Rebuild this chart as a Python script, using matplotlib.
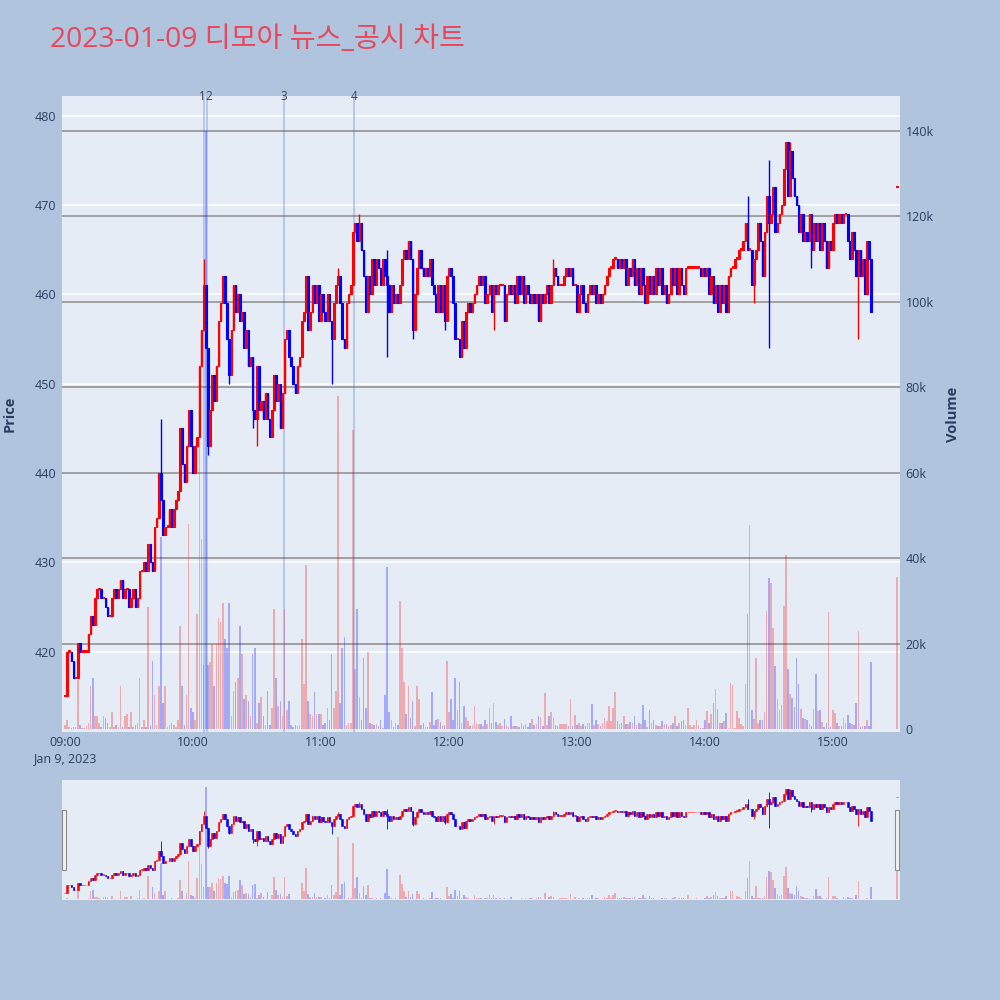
import numpy as np
import matplotlib
matplotlib.use("Agg")
import matplotlib.pyplot as plt
from matplotlib.patches import Rectangle
from matplotlib.ticker import FuncFormatter
from matplotlib.transforms import blended_transform_factory

plt.rcParams['font.family'] = ['Open Sans', 'Noto Sans CJK KR', 'DejaVu Sans']

title = "2023-01-09 디모아 뉴스_공시 차트"

# minute-by-minute closes from 09:00 to 15:18, then the 15:30 closing auction
closes = [
    415, 420, 420, 419, 417, 417, 421, 420, 420, 420,
    420, 422, 424, 423, 426, 427, 427, 426, 426, 425,
    424, 424, 426, 427, 426, 427, 428, 426, 427, 427,
    425, 426, 427, 425, 426, 429, 429, 430, 429, 432,
    430, 429, 434, 435, 440, 437, 433, 434, 434, 436,
    434, 436, 437, 438, 445, 441, 439, 443, 447, 443,
    440, 443, 444, 452, 456, 461, 454, 443, 447, 451,
    448, 452, 457, 459, 462, 459, 455, 451, 456, 461,
    458, 460, 457, 458, 454, 456, 452, 453, 447, 446,
    452, 447, 448, 446, 449, 446, 444, 447, 451, 448,
    450, 445, 449, 455, 456, 453, 452, 450, 449, 452,
    453, 457, 458, 462, 456, 458, 461, 459, 461, 457,
    460, 458, 457, 460, 457, 455, 459, 461, 462, 459,
    455, 454, 459, 460, 461, 467, 468, 466, 468, 465,
    462, 458, 462, 460, 464, 461, 464, 463, 461, 464,
    462, 461, 458, 461, 459, 460, 459, 461, 464, 465,
    464, 466, 464, 456, 460, 463, 465, 463, 462, 463,
    462, 464, 461, 460, 458, 461, 458, 461, 457, 462,
    463, 462, 459, 455, 455, 453, 457, 454, 458, 459,
    458, 459, 460, 461, 462, 461, 462, 459, 460, 461,
    458, 461, 460, 461, 461, 461, 457, 460, 461, 460,
    461, 459, 462, 460, 462, 459, 461, 460, 459, 460,
    459, 460, 457, 460, 459, 460, 461, 459, 461, 463,
    462, 461, 461, 461, 462, 463, 462, 463, 461, 461,
    458, 460, 461, 459, 458, 460, 461, 460, 461, 459,
    460, 459, 460, 461, 462, 463, 463, 464, 464, 463,
    464, 463, 464, 461, 463, 462, 464, 461, 463, 460,
    463, 461, 459, 462, 460, 462, 460, 463, 461, 463,
    460, 461, 459, 460, 463, 461, 463, 460, 463, 461,
    460, 463, 463, 463, 463, 463, 463, 463, 462, 463,
    462, 463, 460, 462, 459, 461, 458, 461, 459, 461,
    458, 462, 463, 463, 464, 464, 465, 465, 466, 468,
    465, 465, 461, 464, 465, 468, 466, 462, 467, 471,
    468, 469, 472, 467, 468, 469, 470, 474, 477, 471,
    476, 473, 471, 470, 467, 469, 466, 467, 466, 469,
    465, 468, 466, 468, 465, 468, 466, 463, 466, 465,
    468, 469, 468, 469, 468, 469, 469, 466, 464, 467,
    465, 462, 465, 462, 464, 460, 466, 464, 458,
    472,
]

# volume in thousands of shares, same minutes
volumes_k = [
    1.0, 2.0, 0.5, 0.3, 0.5, 0.5, 11.5, 1.0, 0.3, 0.3,
    0.8, 1.5, 10.0, 12.0, 3.0, 3.0, 1.5, 0.5, 3.0, 2.5,
    1.5, 0.5, 4.0, 0.5, 1.0, 0.5, 10.0, 0.5, 3.0, 3.5,
    0.5, 4.0, 0.5, 1.0, 1.5, 12.0, 0.5, 2.0, 0.5, 28.5,
    1.0, 16.0, 8.0, 1.0, 10.0, 45.0, 6.0, 10.0, 0.5, 1.0,
    1.5, 1.0, 0.5, 2.0, 24.0, 10.0, 1.0, 8.0, 48.0, 5.0,
    4.0, 2.0, 27.0, 70.0, 44.5, 15.0, 140.0, 15.0, 15.6, 20.0,
    10.0, 20.0, 26.0, 25.0, 29.5, 21.0, 19.0, 29.5, 3.0, 9.0,
    11.0, 12.0, 24.0, 17.5, 7.0, 8.0, 6.6, 3.0, 17.5, 19.0,
    1.5, 6.0, 7.5, 3.0, 1.0, 9.0, 1.0, 5.0, 28.0, 12.0,
    5.5, 6.6, 3.0, 28.0, 4.5, 6.6, 1.0, 0.5, 1.0, 0.8,
    1.0, 21.0, 10.5, 38.4, 6.6, 3.5, 3.0, 8.6, 3.5, 3.5,
    3.5, 1.0, 1.5, 5.0, 2.0, 17.5, 5.0, 9.0, 78.0, 6.0,
    19.0, 21.5, 1.0, 1.5, 1.5, 70.0, 14.0, 28.0, 7.5, 2.0,
    16.6, 5.0, 18.0, 1.5, 1.2, 1.0, 1.2, 0.7, 2.0, 0.3,
    8.0, 38.0, 4.0, 2.0, 0.5, 1.5, 1.0, 30.0, 19.0, 11.0,
    3.5, 10.0, 2.5, 6.5, 0.6, 10.0, 7.0, 1.0, 1.4, 0.5,
    0.5, 1.7, 8.7, 1.0, 2.0, 2.3, 1.6, 0.8, 1.0, 16.0,
    4.0, 7.0, 2.0, 12.0, 4.5, 11.0, 1.5, 5.5, 2.7, 1.8,
    0.8, 1.0, 5.5, 1.3, 1.2, 1.2, 0.8, 2.0, 1.2, 5.0,
    1.3, 6.0, 1.6, 1.0, 1.3, 0.8, 2.3, 1.0, 0.5, 3.0,
    0.6, 0.6, 0.6, 0.4, 1.5, 0.6, 1.2, 0.5, 1.3, 2.3,
    0.9, 1.2, 3.0, 2.7, 0.6, 8.5, 1.0, 3.0, 4.0, 2.6,
    1.0, 0.6, 1.2, 1.2, 1.2, 1.2, 0.8, 7.0, 0.8, 3.2,
    1.0, 1.5, 0.8, 1.2, 0.7, 1.5, 1.5, 5.9, 0.9, 2.0,
    1.2, 0.6, 1.5, 2.6, 1.8, 5.3, 1.8, 5.0, 8.6, 1.8,
    1.2, 1.3, 3.0, 1.2, 1.2, 1.6, 1.4, 3.1, 1.0, 1.5,
    1.2, 5.7, 2.1, 0.5, 4.5, 1.5, 2.0, 1.0, 0.6, 0.8,
    1.8, 1.2, 1.2, 0.6, 1.0, 1.4, 3.0, 0.6, 1.4, 1.8,
    2.0, 1.0, 4.9, 1.0, 0.5, 1.0, 2.0, 1.0, 0.2, 0.2,
    2.0, 4.3, 1.5, 3.4, 6.0, 9.4, 4.7, 1.3, 1.3, 1.8,
    3.7, 0.3, 10.7, 10.2, 0.2, 4.3, 2.5, 1.2, 0.8, 10.5,
    27.0, 47.7, 4.5, 2.3, 16.6, 1.3, 2.1, 2.1, 4.0, 27.7,
    35.4, 34.3, 23.6, 14.8, 7.0, 4.5, 5.6, 28.9, 40.8, 14.0,
    8.2, 7.3, 5.2, 16.6, 10.5, 4.8, 2.6, 2.3, 2.1, 1.2,
    0.8, 4.8, 12.9, 4.3, 4.5, 1.6, 0.5, 1.5, 27.3, 0.4,
    4.5, 3.7, 1.5, 0.8, 0.8, 2.6, 1.3, 3.3, 1.3, 1.2,
    1.0, 6.0, 23.0, 0.5, 0.8, 0.8, 2.0, 0.8, 15.7,
    35.6,
]

# minutes after 09:00 for each candle (market gap 15:19-15:29, auction at 15:30)
minutes = list(range(379)) + [390]

# wicks that go past the candle body
wick_high = {45: 446, 58: 447, 65: 464, 113: 462, 128: 463, 138: 469,
             151: 465, 229: 464, 320: 471, 330: 475, 338: 477, 340: 477}
wick_low = {54: 439, 67: 442, 77: 450, 88: 445, 90: 443, 96: 444, 101: 445,
            125: 450, 151: 453, 163: 455, 178: 456, 185: 453, 201: 456,
            222: 457, 323: 459, 330: 454, 350: 463, 372: 455}

first_open = 415
news_minutes = [65.0, 66.8, 102.5, 135.5]
news_labels = ['1', '2', '3', '4']

tick_minutes = [0, 60, 120, 180, 240, 300, 360]
tick_labels = ['09:00\nJan 9, 2023', '10:00', '11:00', '12:00', '13:00', '14:00', '15:00']

UP = '#FF0000'
DOWN = '#0000FF'
TXT = '#2a3f5f'

x = np.array(minutes, dtype=float)
c = np.array(closes, dtype=float)
o = np.concatenate([[first_open], c[:-1]])
o[-1] = c[-1]  # closing auction prints a single price
h = np.maximum(o, c)
l = np.minimum(o, c)
for k, v in wick_high.items():
    h[k] = max(h[k], v)
for k, v in wick_low.items():
    l[k] = min(l[k], v)
vol = np.array(volumes_k) * 1000
up = c >= o
cols = np.where(up, UP, DOWN)
vcols = [(1, 0, 0, 0.28) if u else (0, 0, 1, 0.28) for u in up]

XLIM = (-1.4, 391.5)
PLIM = (411.0, 482.2)
VLIM = (-700, 148200)


def draw_candles(ax, width, lw_body, lw_wick):
    ax.vlines(x, l, h, colors=cols, linewidth=lw_wick, zorder=3)
    body = np.maximum(np.abs(c - o), 0.15)
    ax.bar(x, body, width, bottom=np.minimum(o, c), color=cols,
           edgecolor=cols, linewidth=lw_body, zorder=4)


def clean(ax):
    for s in ax.spines.values():
        s.set_visible(False)
    ax.tick_params(length=0)


fig = plt.figure(figsize=(10, 10), dpi=100, facecolor='#B0C4DE')
pos = [0.062, 0.268, 0.838, 0.636]

ax_v = fig.add_axes(pos)
ax_v.set_facecolor('#E5ECF6')
ax_p = fig.add_axes(pos, sharex=ax_v)
ax_p.patch.set_visible(False)
ax_p.set_zorder(ax_v.get_zorder() + 1)
clean(ax_v)
clean(ax_p)

ax_v.set_xlim(*XLIM)
ax_v.set_ylim(*VLIM)
ax_p.set_ylim(*PLIM)

# price grid (white) drawn behind volume bars
ptrans = blended_transform_factory(ax_v.transAxes, ax_p.transData)
for p in range(420, 481, 10):
    ax_v.plot([0, 1], [p, p], transform=ptrans, color='white', lw=1.1, zorder=0.5)
for v in range(20000, 140001, 20000):
    ax_v.axhline(v, color='#9a9a9a', lw=1.3, zorder=0.6)

ax_v.bar(x, vol, 0.75, color=vcols, linewidth=0, zorder=1)
for nm in news_minutes:
    ax_v.axvline(nm, color=(0.25, 0.41, 0.88, 0.35), lw=1.2, zorder=2)

draw_candles(ax_p, 0.75, 0.8, 1.0)

# news labels above the plot; 1 and 2 sit side by side as "12"
ntrans = blended_transform_factory(ax_p.transData, ax_p.transAxes)
mid12 = (news_minutes[0] + news_minutes[1]) / 2
ax_p.text(mid12, 1.0, news_labels[0], transform=ntrans, ha='right', va='center',
          fontsize=8.4, color='#444444')
ax_p.text(mid12, 1.0, news_labels[1], transform=ntrans, ha='left', va='center',
          fontsize=8.4, color='#444444')
for nm, lab in zip(news_minutes[2:], news_labels[2:]):
    ax_p.text(nm, 1.0, lab, transform=ntrans, ha='center', va='center',
              fontsize=8.4, color='#444444')

ax_p.set_yticks(range(420, 481, 10))
ax_p.tick_params(axis='y', labelsize=9, labelcolor=TXT, pad=4)
ax_v.yaxis.tick_right()
ax_v.set_yticks(range(0, 140001, 20000))
ax_v.yaxis.set_major_formatter(FuncFormatter(lambda v, _: '0' if v == 0 else f'{int(v / 1000)}k'))
ax_v.tick_params(axis='y', labelsize=9, labelcolor=TXT, pad=4)
ax_v.tick_params(axis='x', labelbottom=False)
ax_p.set_xticks(tick_minutes)
ax_p.set_xticklabels(tick_labels, linespacing=1.3)
ax_p.tick_params(axis='x', labelsize=9, labelcolor=TXT, pad=3)

fig.text(0.010, 0.586, 'Price', rotation=90, ha='center', va='center',
         fontsize=10.5, fontweight='bold', color=TXT)
fig.text(0.953, 0.586, 'Volume', rotation=90, ha='center', va='center',
         fontsize=10.5, fontweight='bold', color=TXT)
fig.text(0.05, 0.960, title, ha='left', va='center', fontsize=20.3,
         color='#E9475C')

# range slider
rpos = [0.062, 0.100, 0.838, 0.120]
rs_v = fig.add_axes(rpos)
rs_v.set_facecolor('#E5ECF6')
rs_p = fig.add_axes(rpos, sharex=rs_v)
rs_p.patch.set_visible(False)
rs_p.set_zorder(rs_v.get_zorder() + 1)
for a in (rs_v, rs_p):
    clean(a)
    a.set_xticks([])
    a.set_yticks([])
rs_v.set_xlim(*XLIM)
rs_v.set_ylim(*VLIM)
rs_p.set_ylim(*PLIM)
rs_v.bar(x, vol, 0.75, color=vcols, linewidth=0)
draw_candles(rs_p, 0.75, 0.4, 0.6)

for hx in (0.062, 0.895):
    fig.add_artist(Rectangle((hx, 0.130), 0.004, 0.060, transform=fig.transFigure,
                             facecolor='#f2f2f2', edgecolor='#8c8c8c', lw=0.8))

fig.savefig('out.png', dpi=100, facecolor=fig.get_facecolor())
